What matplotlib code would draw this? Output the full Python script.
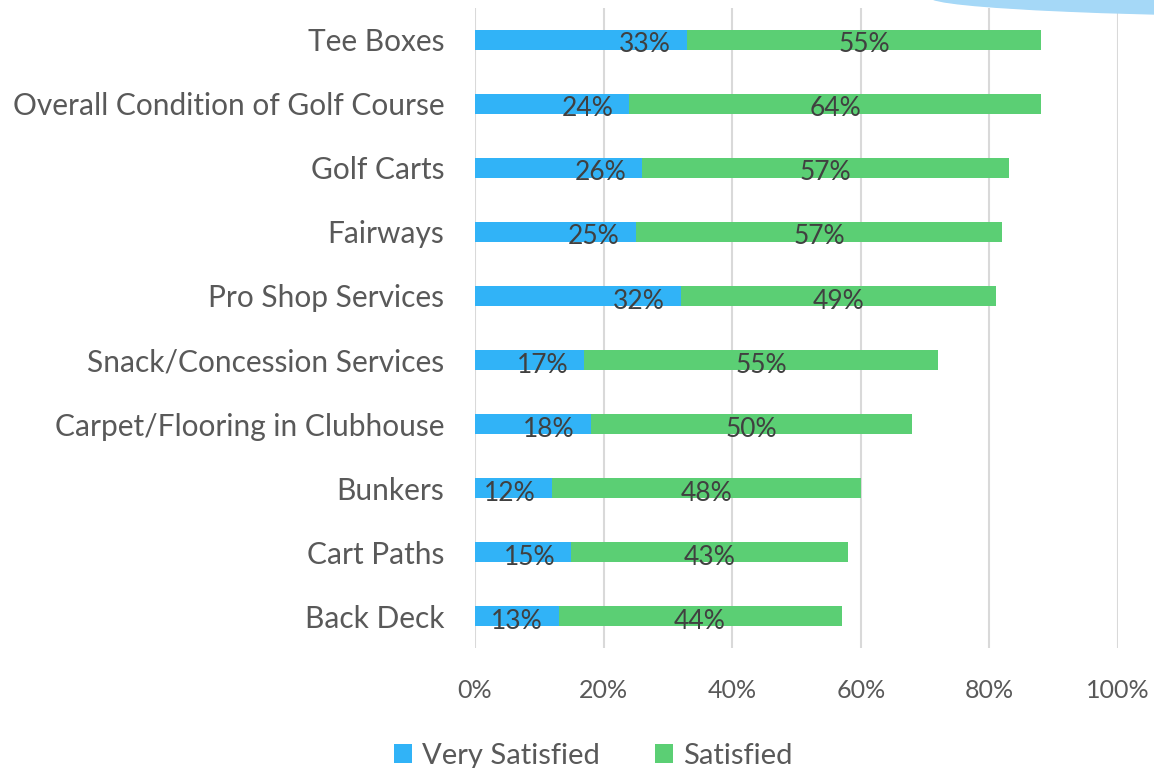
import matplotlib
matplotlib.use("Agg")
import matplotlib.pyplot as plt
from matplotlib.patches import Ellipse

# Survey results, top to bottom
categories = [
    "Tee Boxes",
    "Overall Condition of Golf Course",
    "Golf Carts",
    "Fairways",
    "Pro Shop Services",
    "Snack/Concession Services",
    "Carpet/Flooring in Clubhouse",
    "Bunkers",
    "Cart Paths",
    "Back Deck",
]
very_satisfied = [33, 24, 26, 25, 32, 17, 18, 12, 15, 13]
satisfied = [55, 64, 57, 57, 49, 55, 50, 48, 43, 44]
x_ticks = [0, 20, 40, 60, 80, 100]

blue = "#31b3f7"
green = "#5bcf74"
plt.rcParams["font.family"] = ["Lato", "DejaVu Sans"]

fig = plt.figure(figsize=(11.54, 7.68), dpi=100)
ax = fig.add_axes([0.4116, 0.156, 0.5572, 0.834])

y = list(range(len(categories)))
ax.barh(y, very_satisfied, height=0.31, color=blue, label="Very Satisfied", zorder=2)
ax.barh(y, satisfied, left=very_satisfied, height=0.31, color=green, label="Satisfied", zorder=2)

for i, (v, s) in enumerate(zip(very_satisfied, satisfied)):
    ax.text(v - 2.5, i + 0.08, f"{v}%", ha="right", va="center",
            fontsize=19, color="#404040", zorder=3)
    ax.text(v + s / 2, i + 0.08, f"{s}%", ha="center", va="center",
            fontsize=19, color="#404040", zorder=3)

ax.set_ylim(len(categories) - 0.5, -0.5)
ax.set_xlim(0, 100)
ax.set_yticks(y)
ax.set_yticklabels(categories, fontsize=21.5, color="#595959")
ax.set_xticks(x_ticks)
ax.set_xticklabels([f"{t}%" for t in x_ticks], fontsize=18, color="#595959")
ax.tick_params(axis="both", length=0)
ax.tick_params(axis="y", pad=22)
ax.tick_params(axis="x", pad=22)
ax.xaxis.grid(True, color="#d9d9d9", linewidth=1.5, zorder=0)
for sp in ax.spines.values():
    sp.set_visible(False)

leg = fig.legend(loc="lower center", bbox_to_anchor=(0.514, -0.035), ncol=2,
                 frameon=False, fontsize=21, handlelength=0.6, handleheight=0.6,
                 handletextpad=0.35, columnspacing=1.9)
for t in leg.get_texts():
    t.set_color("#595959")

# decorative swoosh in the top right corner
fig.patches.append(Ellipse((1400, 771), 940, 40, transform=None,
                           color="#a5d8f7", zorder=0))

fig.savefig("out.png", dpi=100)
